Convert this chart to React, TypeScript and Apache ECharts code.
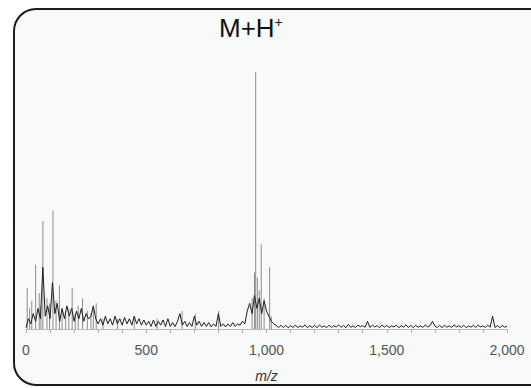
import React, { useEffect, useRef } from "react";
import * as echarts from "echarts";

// black trace: intensity every 10 m/z from 0 to 2000
const noiseStep = 10;
const noiseValues: number[] = [
  0.5, 4, 2, 6, 3, 8, 4, 24, 5, 9,
  4, 18, 6, 10, 3, 8, 4, 9, 5, 8,
  3, 7, 4, 8, 3, 6, 4, 5, 9, 4,
  2, 4, 1.5, 5, 2, 4, 1.5, 5, 2, 4,
  1.5, 4.5, 2, 4, 1.5, 5, 2, 4, 1.5, 3.5,
  1.5, 3, 1, 3.5, 1, 3, 1.5, 3.5, 1, 4,
  1, 2.5, 1, 3, 6, 1.5, 3, 1, 2.5, 1,
  5, 1.5, 3, 1, 2.5, 1, 2.5, 0.8, 2, 1,
  6, 1, 2, 0.8, 2, 1, 2.5, 1, 2, 1.5,
  3, 2, 7, 10, 6, 13, 8, 12, 6, 11,
  7, 5, 3, 2, 1.5, 0.5, 1.5, 0.6, 1.4, 0.5,
  1.3, 0.6, 1.5, 0.5, 1.2, 0.7, 1.6, 0.5, 1.3, 0.6,
  1.4, 0.5, 1.6, 0.7, 1.2, 0.5, 1.5, 0.6, 1.3, 0.8,
  1.6, 0.6, 1.4, 0.5, 1.8, 0.7, 1.2, 0.6, 1.5, 0.9,
  1.3, 0.7, 3, 0.6, 1.5, 0.8, 1.3, 0.5, 1.6, 0.7,
  1.4, 0.6, 1.2, 0.8, 1.5, 0.5, 1.3, 0.7, 1.6, 0.6,
  1.4, 0.5, 1.5, 0.7, 1.2, 0.6, 1.6, 0.8, 1.3, 3,
  1.1, 0.6, 1.4, 0.5, 1.5, 0.7, 1.2, 0.6, 1.6, 0.8,
  1.3, 0.6, 1.5, 0.5, 1.2, 0.7, 1.4, 0.6, 1.5, 0.8,
  1.2, 0.6, 1.5, 0.7, 5, 0.6, 1.3, 0.5, 1.4, 0.7,
  1,
];

// grey trace peaks: m/z and relative intensity
const peakMz: number[] = [
  5, 15, 24, 40, 55, 62, 70, 87, 98, 112, 125, 139, 150, 165, 178, 192, 205, 217,
  235, 255, 270, 280, 292, 320, 380, 450, 545, 649, 704, 801, 940, 950, 955, 962,
  970, 978, 990, 1013, 1020,
];
const peakIntensity: number[] = [
  16, 8, 11, 25, 14, 9, 42, 12, 10, 46, 11, 17, 8, 7, 8, 16, 6, 9,
  12, 7, 6, 8, 10, 4, 4, 5, 4, 7, 6, 7, 12, 22, 100, 20,
  15, 33, 12, 24, 5,
];

const xTickLabels = ["0", "500", "1,000", "1,500", "2,000"];
const labelText = "M+H";
const labelSup = "+";

export default function App() {
  const ref = useRef<HTMLDivElement>(null);
  useEffect(() => {
    if (!ref.current) return;
    const chart = echarts.init(ref.current, null, { renderer: "svg" });
    const noiseData = noiseValues.map((v, i) => [i * noiseStep, v]);
    const peakData = peakMz.map((m, i) => [m, peakIntensity[i]]);
    chart.setOption({
      animation: false,
      backgroundColor: "#ffffff",
      graphic: [
        {
          type: "rect",
          shape: { x: 14, y: 9, width: 560, height: 376, r: 22 },
          style: { fill: "#f8f9f9", stroke: "#1c1c1c", lineWidth: 2 },
          z: -10,
          silent: true,
        },
        {
          type: "text",
          x: 219,
          y: 15,
          style: {
            text: `{a|${labelText}}{b|${labelSup}}`,
            rich: {
              a: { fontSize: 26, fontFamily: "Liberation Sans", fill: "#111" },
              b: {
                fontSize: 14,
                fontFamily: "Liberation Sans",
                fill: "#111",
                verticalAlign: "top",
                padding: [0, 0, 12, 0],
              },
            },
          },
          z: 10,
        },
      ],
      grid: { left: 26, right: 24, top: 72, bottom: 58 },
      xAxis: {
        type: "value",
        min: 0,
        max: 2000,
        interval: 500,
        name: "m/z",
        nameLocation: "middle",
        nameGap: 40,
        nameTextStyle: {
          fontSize: 14,
          fontStyle: "italic",
          fontFamily: "Liberation Sans",
          color: "#333",
        },
        axisLine: { lineStyle: { color: "#b8b8b8", width: 1 } },
        axisTick: { show: true, length: 4, lineStyle: { color: "#b0b0b0" } },
        minorTick: { show: true, splitNumber: 5, length: 4, lineStyle: { color: "#b0b0b0" } },
        splitLine: { show: false },
        axisLabel: {
          fontSize: 14,
          fontFamily: "Liberation Sans",
          color: "#555",
          margin: 14,
          formatter: (v: number) => xTickLabels[Math.round(v / 500)] ?? "",
        },
      },
      yAxis: { type: "value", min: 0, max: 100, show: false },
      series: [
        {
          type: "bar",
          data: peakData,
          barWidth: 1,
          itemStyle: { color: "#8c8c8c" },
          z: 2,
        },
        {
          type: "line",
          data: noiseData,
          showSymbol: false,
          lineStyle: { color: "#1e1e1e", width: 1 },
          z: 3,
        },
      ],
    });
    return () => chart.dispose();
  }, []);
  return (
    <div
      ref={ref}
      style={{ position: "absolute", left: 0, top: 0, width: 531, height: 388 }}
    />
  );
}
